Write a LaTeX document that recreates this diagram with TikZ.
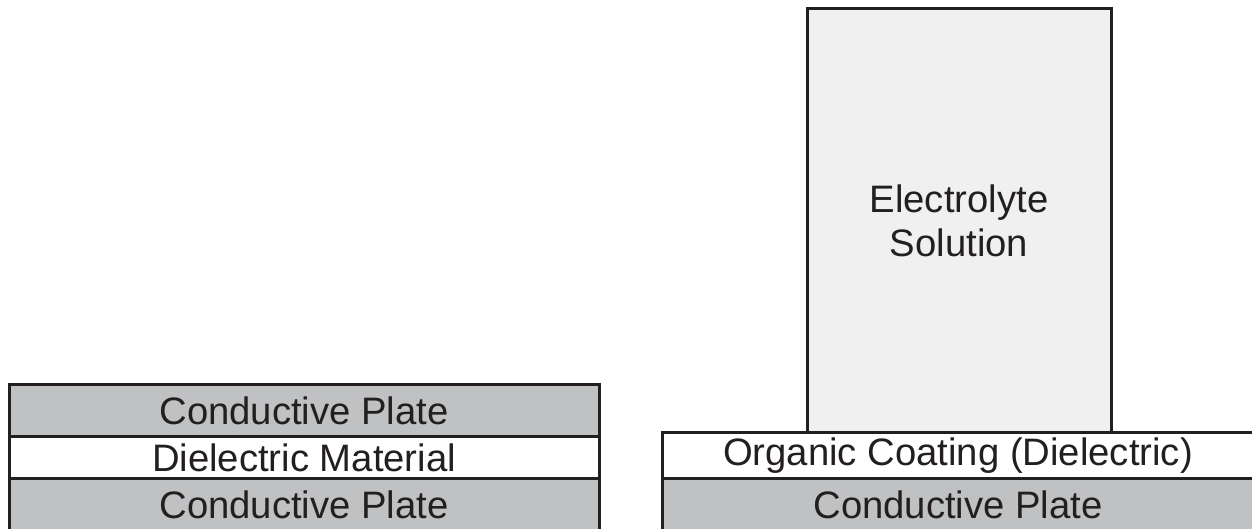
\documentclass[tikz,border=0pt]{standalone}
\usepackage{fontspec}
\setmainfont{Liberation Sans}
\definecolor{plategray}{HTML}{C0C1C3}
\definecolor{solutiongray}{HTML}{F0F0F0}
\definecolor{edgeink}{HTML}{231F20}
\begin{document}
\begin{tikzpicture}[x=1bp,y=1bp,
  layer/.style={draw=edgeink, line width=3bp, inner sep=0pt, outer sep=0pt,
    anchor=north west, text=edgeink, font=\fontsize{38.4}{44}\selectfont},
  plate/.style={layer, fill=plategray},
  coating/.style={layer, fill=white},
  solution/.style={layer, fill=solutiongray, align=center}]
\useasboundingbox (0,0) rectangle (1252,529);
\clip (0,0) rectangle (1252,529);
% parallel-plate capacitor
\node[plate, minimum width=590bp, minimum height=52bp] (topplate) at (9,144) {Conductive Plate};
\node[coating, minimum width=590bp, minimum height=42bp] (dielectric) at (9,92) {Dielectric Material};
\node[plate, minimum width=590bp, minimum height=52bp] (botplate) at (9,50) {Conductive Plate};
% coated electrode in electrolyte
\node[solution, minimum width=304bp, minimum height=424bp] (electrolyte) at (807,520) {Electrolyte\\Solution};
\node[coating, minimum width=592bp, minimum height=46bp] (coating) at (662,96) {Organic Coating (Dielectric)};
\node[plate, minimum width=592bp, minimum height=52bp] (rightplate) at (662,50) {Conductive Plate};
\end{tikzpicture}
\end{document}
